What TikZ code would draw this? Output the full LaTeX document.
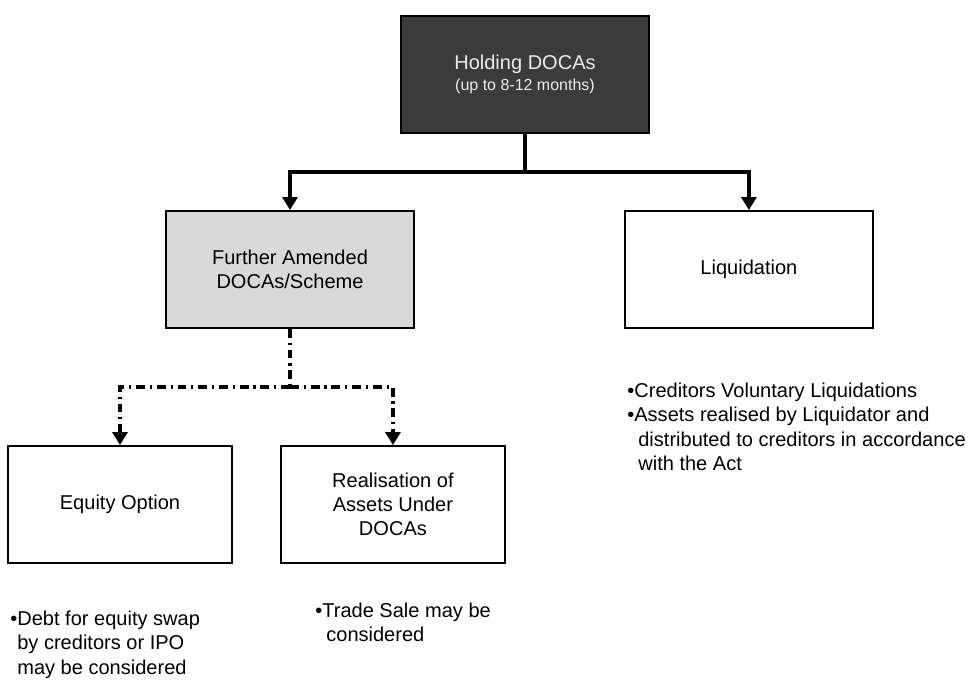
\documentclass[tikz,border=0pt]{standalone}
\usepackage{fontspec}
\setmainfont{Liberation Sans}
\usetikzlibrary{arrows.meta, positioning}

\begin{document}
\begin{tikzpicture}[
    node distance=1cm and 1cm,
    box/.style={rectangle, draw=black, line width=1.1pt, fill=white, minimum width=4.96cm, minimum height=2.34cm, align=center, font=\fontsize{11.4}{13.7}\selectfont},
    darkbox/.style={box, fill=black!77, text=white!93!black},
    greybox/.style={box, fill=gray!30},
    smallbox/.style={box, minimum width=4.48cm},
    arrow/.style={-{Triangle[width=0.3cm, length=0.26cm]}, line width=2.2pt},
    dashline/.style={line width=2.2pt, dash pattern=on 5pt off 2.8pt on 1.2pt off 2.8pt},
    dasharrow/.style={arrow, dashline},
    note/.style={align=left, anchor=north west, inner sep=0pt, font=\fontsize{11.4}{13.7}\selectfont}
]
\useasboundingbox (0,0) rectangle (19.56,-13.6);

% Holding stage
\node[darkbox] (hold) at (10.5,-1.49) {Holding DOCAs\\[-2pt]{\fontsize{9.1}{11}\selectfont (up to 8-12 months)}};
\coordinate (holdfork) at (10.5,-3.44);

% Second level
\node[greybox] (amend) at (5.8,-5.39) {Further Amended\\DOCAs/Scheme};
\node[box, right=4.18cm of amend] (liq) {Liquidation};

\draw[line width=2.2pt] (hold.south) -- (holdfork);
\draw[arrow] (holdfork) -| (amend.north);
\draw[arrow] (holdfork) -| (liq.north);

% Options under the amended DOCAs
\node[smallbox] (equity) at (2.4,-10.09) {Equity Option};
\node[smallbox, right=0.94cm of equity] (realise) {Realisation of\\Assets Under\\DOCAs};
\coordinate (amendfork) at (5.8,-7.74);

\draw[dashline] (amend.south) -- (amendfork);
\draw[dasharrow] (amendfork) -| (equity.north);
\draw[dasharrow] (amendfork) -| (realise.north);

% Notes
\node[note] (liqnote) at (12.54,-7.66) {•Creditors Voluntary Liquidations\\•Assets realised by Liquidator and\\\hspace*{0.22cm}distributed to creditors in accordance\\\hspace*{0.22cm}with the Act};
\node[note] (equitynote) at (0.2,-12.22) {•Debt for equity swap\\\hspace*{0.14cm}by creditors or IPO\\\hspace*{0.14cm}may be considered};
\node[note] (realisenote) at (6.3,-12.06) {•Trade Sale may be\\\hspace*{0.22cm}considered};

\end{tikzpicture}
\end{document}
